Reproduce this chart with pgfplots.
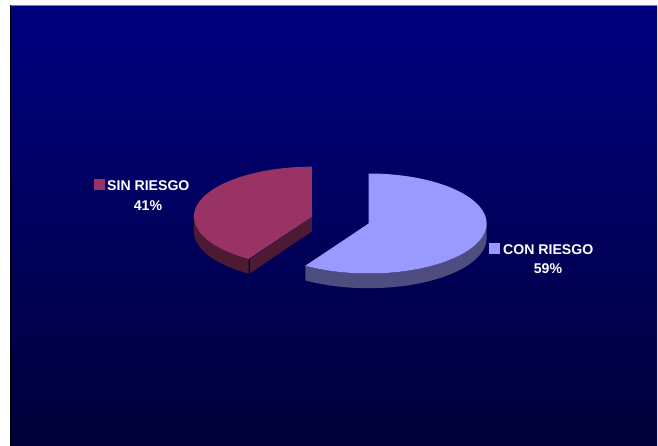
\documentclass[border=0pt]{standalone}
\usepackage{pgfplots}
\pgfplotsset{compat=1.18}
\usepackage{fontspec}
\setmainfont{Liberation Sans}
\definecolor{panelTop}{HTML}{000080}
\definecolor{panelBottom}{HTML}{00003A}
\definecolor{conTop}{HTML}{9999FF}
\definecolor{conWall}{HTML}{4D4D80}
\definecolor{sinTop}{HTML}{993366}
\definecolor{sinWall}{HTML}{4D1A33}
\tikzset{lbl/.style={text=white, font=\fontsize{14.1}{16}\selectfont\bfseries, inner sep=0pt}}
% shares of the two groups, in percent
\def\shareCon{59}
\def\shareSin{41}
\pgfmathsetmacro{\sweepCon}{3.6*\shareCon}
\pgfmathsetmacro{\sweepSin}{3.6*\shareSin}
\pgfmathsetmacro{\endCon}{90-\sweepCon}
\pgfmathsetmacro{\endSin}{90+\sweepSin}
\def\rx{118}
\def\ry{50}
\def\depth{14.7}
\begin{document}
\begin{tikzpicture}
\begin{axis}[
  hide axis, scale only axis, width=658pt, height=446pt,
  xmin=0, xmax=658, ymin=0, ymax=446, y dir=reverse, clip=true,
]
% page and gradient panel
\addplot[draw=none, no markers, fill=white, forget plot] coordinates {(0,0) (658,0) (658,446) (0,446)} -- cycle;
\addplot[draw=none, no markers, top color=panelTop, bottom color=panelBottom, forget plot]
  coordinates {(10.5,5.5) (657,5.5) (657,446) (10.5,446)} -- cycle;
\addplot[black, no markers, line width=1pt, forget plot] coordinates {(10.5,5.5) (10.5,446)};
\addplot[gray, no markers, line width=1pt, forget plot] coordinates {(10.5,5.5) (657,5.5)};

% SIN RIESGO slice: outer wall (out along the upper rim, back along the lower), cut wall, top
\addplot[draw=none, no markers, fill=sinWall, domain=0:2, samples=121, variable=\t]
  ({311.9+\rx*cos(180+(\endSin-180)*min(1,1.05*(1-abs(\t-1))))},
   {216.7-\ry*sin(180+(\endSin-180)*min(1,1.05*(1-abs(\t-1))))+\depth*(\t>1)}) -- cycle;
\addplot[draw=none, no markers, fill=sinWall] coordinates {
  (311.9,216.7) (311.9,231.4) (249.9,273.3) (249.9,258.9)} -- cycle;
\addplot[draw=none, no markers, fill=sinTop, domain=90:\endSin, samples=91, variable=\t]
  ({311.9+\rx*cos(\t)},{216.7-\ry*sin(\t)}) -- (axis cs:311.9,216.7) -- cycle;

% CON RIESGO slice: outer wall, top
\addplot[draw=none, no markers, fill=conWall, domain=0:2, samples=121, variable=\t]
  ({368.6+\rx*cos(\endCon*min(1,1.05*(1-abs(\t-1))))},
   {223.5-\ry*sin(\endCon*min(1,1.05*(1-abs(\t-1))))+\depth*(\t>1)}) -- cycle;
\addplot[draw=none, no markers, fill=conTop, domain=90:\endCon, samples=121, variable=\t]
  ({368.6+\rx*cos(\t)},{223.5-\ry*sin(\t)}) -- (axis cs:368.6,223.5) -- cycle;

% legend keys and labels
\addplot[draw=none, mark=square*, mark size=5pt, mark options={draw=sinTop, line width=0pt, fill=sinTop}] coordinates {(99,185)};
\addplot[draw=none, mark=square*, mark size=5pt, mark options={draw=conTop, line width=0pt, fill=conTop}] coordinates {(494,249)};
\node[lbl, anchor=west] at (axis cs:107,186) {SIN RIESGO};
\node[lbl] at (axis cs:148,205.7) {\shareSin\%};
\node[lbl, anchor=west] at (axis cs:503,250) {CON RIESGO};
\node[lbl] at (axis cs:548,268.7) {\shareCon\%};
\end{axis}
\end{tikzpicture}
\end{document}
